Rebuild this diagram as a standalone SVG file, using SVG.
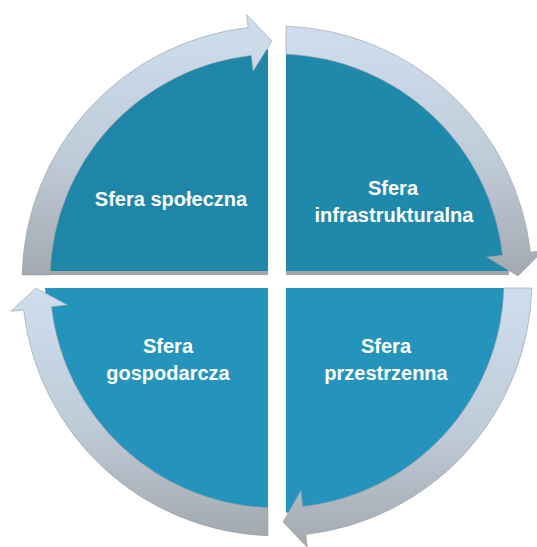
<svg xmlns="http://www.w3.org/2000/svg" width="537" height="547" viewBox="0 0 537 547">
  <defs>
    <linearGradient id="band" x1="0" y1="0" x2="0" y2="1">
      <stop offset="0" stop-color="#cfdeee"/>
      <stop offset="0.55" stop-color="#bfcbd8"/>
      <stop offset="1" stop-color="#a3a9af"/>
    </linearGradient>
    <style>
      .lbl { font-family: "Liberation Sans", Arial, sans-serif; font-weight: bold; font-size: 20px; fill: #ffffff; text-anchor: middle; }
      .arrow { fill: url(#band); stroke: #9aa0a6; stroke-width: 0.6; }
      .shadow { fill: #a2a7ab; }
    </style>
  </defs>
  <rect width="537" height="547" fill="#ffffff"/>

  <g id="sfera-spoleczna">
    <path d="M 268 275 L 45.08 275 A 232 232 0 0 1 268 49.17 Z" fill="#1e86a7"/>
    <rect class="shadow" x="45" y="271" width="223" height="4"/>
    <text class="lbl" x="171" y="206">Sfera społeczna</text>
  </g>

  <g id="sfera-infrastrukturalna">
    <path d="M 286 275 L 286 49.17 A 232 232 0 0 1 508.92 275 Z" fill="#1f89ab"/>
    <rect class="shadow" x="286" y="271" width="223" height="4"/>
    <text class="lbl" x="393" y="195">Sfera</text>
    <text class="lbl" x="394" y="222">infrastrukturalna</text>
  </g>

  <g id="sfera-przestrzenna">
    <path d="M 286 288 L 508.89 288 A 232 232 0 0 1 286 512.83 Z" fill="#2594bc"/>
    <text class="lbl" x="386" y="353">Sfera</text>
    <text class="lbl" x="386" y="380">przestrzenna</text>
  </g>

  <g id="sfera-gospodarcza">
    <path d="M 268 288 L 268 512.83 A 232 232 0 0 1 45.11 288 Z" fill="#2594bc"/>
    <text class="lbl" x="168" y="353">Sfera</text>
    <text class="lbl" x="168" y="380">gospodarcza</text>
  </g>

  <g id="connectors">
    <path class="arrow" d="M 22.07 275 A 255 255 0 0 1 248.1 27.6 L 246.7 14.7 L 272 41 L 253.1 71.3 L 251.3 55.4 A 227 227 0 0 0 50.08 275 Z"/>
    <path class="arrow" d="M 286 26.16 A 255 255 0 0 1 530.4 252.1 L 543.3 250.7 L 518 276 L 486.7 257.1 L 502.6 255.3 A 227 227 0 0 0 286 54.18 Z"/>
    <path class="arrow" d="M 531.9 288 A 255 255 0 0 1 305.9 534.4 L 307.3 547.3 L 283 522 L 300.9 490.7 L 302.7 506.6 A 227 227 0 0 0 503.9 288 Z"/>
    <path class="arrow" d="M 268 535.84 A 255 255 0 0 1 23.6 309.9 L 10.7 311.3 L 36 288 L 67.4 304.9 L 51.5 306.7 A 227 227 0 0 0 268 507.82 Z"/>
  </g>
</svg>
